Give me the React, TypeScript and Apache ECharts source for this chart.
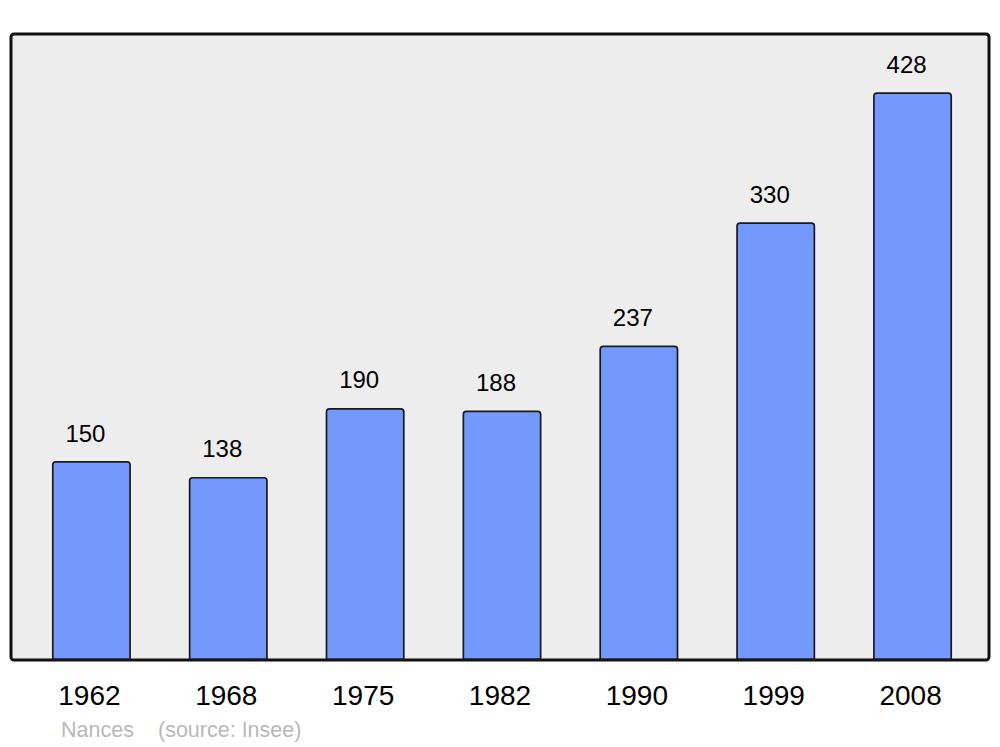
import React, { useEffect, useRef } from "react";
import * as echarts from "echarts";

const years = ["1962", "1968", "1975", "1982", "1990", "1999", "2008"];
const population = [150, 138, 190, 188, 237, 330, 428];
const footerName = "Nances";
const footerSource = "(source: Insee)";

export default function App() {
  const ref = useRef<HTMLDivElement>(null);
  useEffect(() => {
    if (!ref.current) return;
    const chart = echarts.init(ref.current, null, { renderer: "svg" });
    chart.setOption({
      animation: false,
      backgroundColor: "#ffffff",
      textStyle: { fontFamily: "Liberation Sans, Arial, sans-serif" },
      graphic: [
        {
          type: "rect",
          z: -10,
          shape: { x: 11, y: 34, width: 978, height: 626, r: 3 },
          style: { fill: "#ededed", stroke: "#111111", lineWidth: 3 },
        },
        {
          type: "text",
          x: 61,
          y: 730,
          style: {
            text: footerName,
            fill: "#b8b8b8",
            font: "21.5px 'Liberation Sans', Arial, sans-serif",
            textVerticalAlign: "middle",
          },
        },
        {
          type: "text",
          x: 158,
          y: 730,
          style: {
            text: footerSource,
            fill: "#b8b8b8",
            font: "21.5px 'Liberation Sans', Arial, sans-serif",
            textVerticalAlign: "middle",
          },
        },
      ],
      grid: { left: 23, right: 19, top: 63, bottom: 87, containLabel: false },
      xAxis: {
        type: "category",
        data: years,
        axisLine: { show: false },
        axisTick: { show: false },
        axisLabel: {
          color: "#000000",
          fontSize: 28,
          margin: 21,
          padding: [0, 4, 0, 0],
          fontFamily: "Liberation Sans, Arial, sans-serif",
        },
      },
      yAxis: {
        type: "value",
        min: 0,
        max: 450,
        show: false,
        splitLine: { show: false },
      },
      series: [
        {
          type: "bar",
          data: population,
          barWidth: 79,
          z: 2,
          itemStyle: {
            color: "#7399ff",
            borderColor: "#1a1a1a",
            borderWidth: 1.7,
            borderRadius: [3, 3, 0, 0],
          },
          label: {
            show: true,
            position: "top",
            distance: 16,
            offset: [-6, 0],
            color: "#000000",
            fontSize: 24,
            fontFamily: "Liberation Sans, Arial, sans-serif",
          },
        },
      ],
    });
    return () => chart.dispose();
  }, []);
  return (
    <div
      ref={ref}
      style={{ position: "fixed", left: 0, top: 0, width: 1000, height: 747 }}
    />
  );
}
